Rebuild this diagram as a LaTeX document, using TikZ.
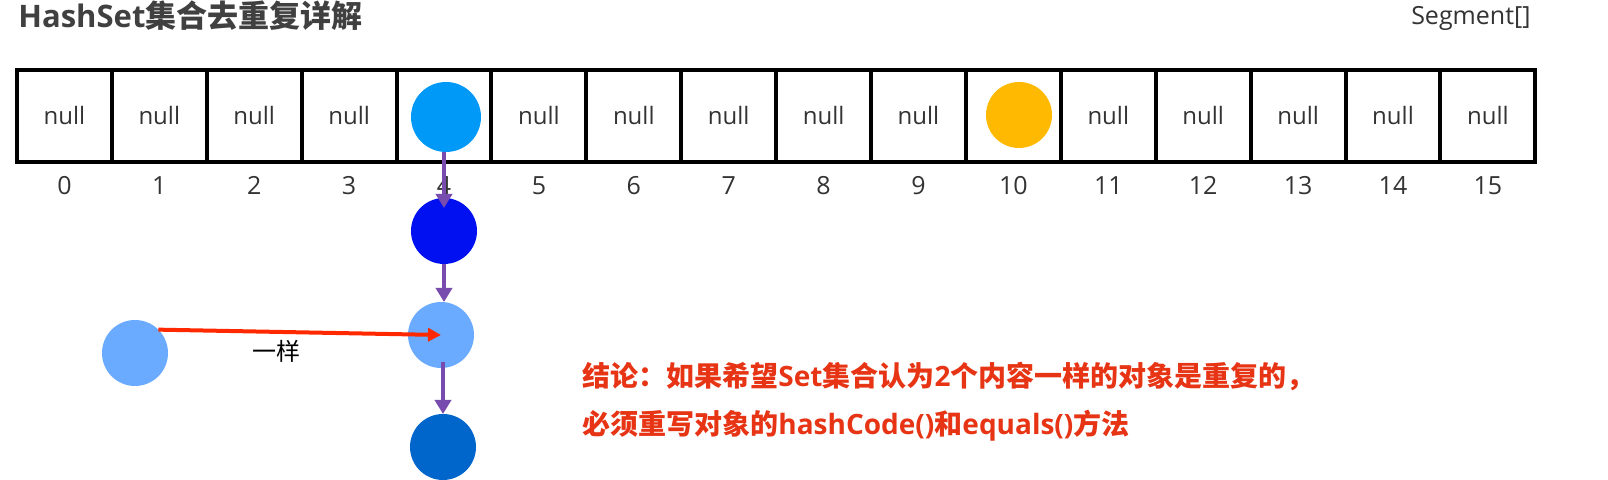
\documentclass[tikz,border=0pt]{standalone}
\usepackage{fontspec}
\setmainfont{Open Sans}
\newfontfamily\zhfont{Noto Sans CJK SC}
\newcommand{\zh}[1]{{\zhfont #1}}
\usetikzlibrary{arrows.meta,positioning}
\definecolor{titlegray}{RGB}{64,64,64}
\definecolor{textgray}{RGB}{51,51,51}
\definecolor{headblue}{RGB}{0,153,247}
\definecolor{deepblue}{RGB}{0,16,240}
\definecolor{paleblue}{RGB}{106,170,255}
\definecolor{darkblue}{RGB}{0,102,204}
\definecolor{ballorange}{RGB}{255,185,0}
\definecolor{linkpurple}{RGB}{120,75,175}
\definecolor{arrowred}{RGB}{255,40,0}
\definecolor{notered}{RGB}{230,52,20}

\begin{document}
\begin{tikzpicture}[x=0.5pt,y=0.5pt,
    cell/.style={draw,line width=2pt,minimum width=47.45pt,minimum height=46pt,
      inner sep=0pt,outer sep=0pt,text=textgray,font=\fontsize{12}{14}\selectfont},
    index/.style={anchor=base,inner sep=0pt,text=textgray,font=\fontsize{12.5}{15}\selectfont},
    ball/.style={circle,inner sep=0pt,outer sep=0pt,minimum size=33pt},
    note/.style={anchor=base west,inner sep=0pt,text=notered,
      font=\bfseries\fontsize{14}{16}\selectfont}]
    \useasboundingbox (0,0) rectangle (1608,480);
    %% Draw the headings
    \node[anchor=base west,inner sep=0pt,text=titlegray,
      font=\bfseries\fontsize{15.5}{18}\selectfont] (title) at (18,452) {HashSet\zh{集合去重复详解}};
    \node[anchor=base east,inner sep=0pt,text=textgray,
      font=\fontsize{12.5}{15}\selectfont] (segment) at (1531,455) {Segment[]};
    %% Draw the array cells
    \node[cell] (c0) at (64.4,364) {null};
    \node[cell] (c1) at (159.3,364) {null};
    \node[cell] (c2) at (254.2,364) {null};
    \node[cell] (c3) at (349.1,364) {null};
    \node[cell] (c4) at (444.0,364) {};
    \node[cell] (c5) at (538.9,364) {null};
    \node[cell] (c6) at (633.8,364) {null};
    \node[cell] (c7) at (728.7,364) {null};
    \node[cell] (c8) at (823.6,364) {null};
    \node[cell] (c9) at (918.5,364) {null};
    \node[cell] (c10) at (1013.4,364) {};
    \node[cell] (c11) at (1108.3,364) {null};
    \node[cell] (c12) at (1203.2,364) {null};
    \node[cell] (c13) at (1298.1,364) {null};
    \node[cell] (c14) at (1393.0,364) {null};
    \node[cell] (c15) at (1487.9,364) {null};
    %% Draw the indices
    \node[index] (i0) at (64.4,285) {0};
    \node[index] (i1) at (159.3,285) {1};
    \node[index] (i2) at (254.2,285) {2};
    \node[index] (i3) at (349.1,285) {3};
    \node[index] (i4) at (444.0,285) {4};
    \node[index] (i5) at (538.9,285) {5};
    \node[index] (i6) at (633.8,285) {6};
    \node[index] (i7) at (728.7,285) {7};
    \node[index] (i8) at (823.6,285) {8};
    \node[index] (i9) at (918.5,285) {9};
    \node[index] (i10) at (1013.4,285) {10};
    \node[index] (i11) at (1108.3,285) {11};
    \node[index] (i12) at (1203.2,285) {12};
    \node[index] (i13) at (1298.1,285) {13};
    \node[index] (i14) at (1393.0,285) {14};
    \node[index] (i15) at (1487.9,285) {15};
    %% Draw the elements
    \node[ball,fill=headblue,minimum size=35pt] (A) at (446,363) {};
    \node[ball,fill=ballorange] (Y) at (1019,365) {};
    \node[ball,fill=deepblue] (B) at (444,249) {};
    \node[ball,fill=paleblue] (C) at (441,145) {};
    \node[ball,fill=darkblue] (D) at (443,33) {};
    \node[ball,fill=paleblue] (E) at (135,127) {};
    %% Draw the label and the conclusion
    \node[anchor=base,inner sep=0pt,font=\fontsize{12}{14}\selectfont] (same) at (276,119) {\zh{一样}};
    \node[note] (line1) at (582,93) {\zh{结论：如果希望}Set\zh{集合认为}2\zh{个内容一样的对象是重复的，}};
    \node[note] (line2) at (582,45) {\zh{必须重写对象的}hashCode()\zh{和}equals()\zh{方法}};
    %% Draw the edges
    \begin{scope}[every path/.style={-{Triangle[width=8pt,length=7pt]},draw=linkpurple,
        fill=linkpurple,line width=1.8pt}]
      \draw (B |- A.south) -- (B.north) [shorten >=-5pt];
      \draw (B.south) -- (B.south |- C.north);
      \draw (D |- C.south) -- (D.north) [shorten <=-3pt];
    \end{scope}
    \draw[-{Triangle[width=6.5pt,length=6.5pt]},draw=arrowred,fill=arrowred,line width=2pt]
      (E.north east) -- (C.center);
  \end{tikzpicture}
\end{document}
